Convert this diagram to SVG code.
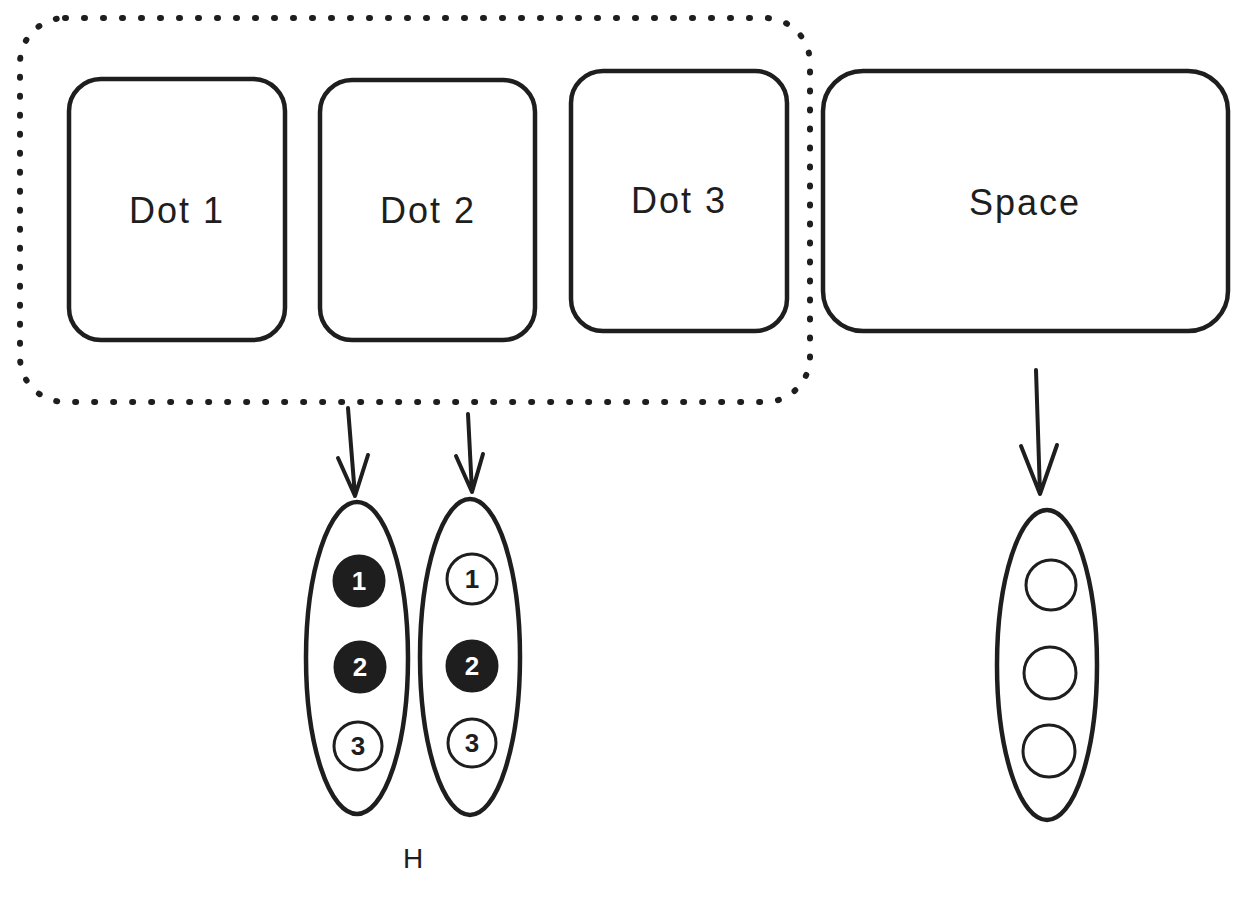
<svg xmlns="http://www.w3.org/2000/svg" width="1248" height="899" viewBox="0 0 1248 899">
<defs>
<style>
.box{fill:#ffffff;stroke:#1e1e1e;stroke-width:4.5;stroke-linejoin:round}
.pod{fill:#ffffff;stroke:#1e1e1e;stroke-width:4.5}
.dotw{fill:#ffffff;stroke:#1e1e1e;stroke-width:3}
.dotb{fill:#1e1e1e;stroke:#1e1e1e;stroke-width:3}
.lbl{font-family:"Liberation Sans",Arial,sans-serif;font-size:36px;fill:#1e1e1e;text-anchor:middle;dominant-baseline:central;letter-spacing:2px}
.num{font-family:"Liberation Sans",Arial,sans-serif;font-size:26px;font-weight:bold;text-anchor:middle;dominant-baseline:central}
.conn{fill:none;stroke:#1e1e1e;stroke-width:4;stroke-linecap:round;stroke-linejoin:round}
</style>
</defs>
<rect width="1248" height="899" fill="#ffffff"/>
<g id="group-container">
<rect x="20" y="18" width="790" height="384" rx="45" ry="45" fill="none" stroke="#1e1e1e" stroke-width="6" stroke-linecap="round" stroke-dasharray="1 18"/>
</g>
<g id="node-dot1">
<rect class="box" x="69" y="79" width="216" height="261" rx="32" ry="32"/>
<text class="lbl" x="177" y="210">Dot 1</text>
</g>
<g id="node-dot2">
<rect class="box" x="320" y="80" width="215" height="260" rx="32" ry="32"/>
<text class="lbl" x="428" y="210">Dot 2</text>
</g>
<g id="node-dot3">
<rect class="box" x="571" y="71" width="216" height="260" rx="32" ry="32"/>
<text class="lbl" x="679" y="200">Dot 3</text>
</g>
<g id="node-space">
<rect class="box" x="823" y="71" width="405" height="260" rx="40" ry="40"/>
<text class="lbl" x="1025" y="202">Space</text>
</g>
<g id="connectors">
<path class="conn" d="M348 408 L355 496 M338 458 L355 496 L368 455"/>
<path class="conn" d="M468 414 L472 492 M456 456 L472 492 L483 454"/>
<path class="conn" d="M1036 370 L1040 494 M1021 446 L1040 494 L1057 445"/>
</g>
<g id="node-braille-h1">
<ellipse class="pod" cx="357" cy="658" rx="51" ry="156"/>
<circle class="dotb" cx="359" cy="581" r="25"/>
<text class="num" x="359" y="581" fill="#ffffff">1</text>
<circle class="dotb" cx="360" cy="667" r="25"/>
<text class="num" x="360" y="667" fill="#ffffff">2</text>
<circle class="dotw" cx="358" cy="746" r="24"/>
<text class="num" x="358" y="746" fill="#1e1e1e" font-weight="normal">3</text>
</g>
<g id="node-braille-h2">
<ellipse class="pod" cx="470" cy="657" rx="50" ry="158"/>
<circle class="dotw" cx="472" cy="579" r="25"/>
<text class="num" x="472" y="579" fill="#1e1e1e" font-weight="normal">1</text>
<circle class="dotb" cx="472" cy="666" r="25"/>
<text class="num" x="472" y="666" fill="#ffffff">2</text>
<circle class="dotw" cx="472" cy="743" r="24"/>
<text class="num" x="472" y="743" fill="#1e1e1e" font-weight="normal">3</text>
</g>
<g id="node-braille-space">
<ellipse class="pod" cx="1047" cy="665" rx="50" ry="155"/>
<circle class="dotw" cx="1051" cy="585" r="25"/>
<circle class="dotw" cx="1050" cy="673" r="26"/>
<circle class="dotw" cx="1049" cy="751" r="26"/>
</g>
<g id="label-h">
<text x="413" y="858" font-family="Liberation Sans, Arial, sans-serif" font-size="28" fill="#1e1e1e" text-anchor="middle" dominant-baseline="central">H</text>
</g>
</svg>
